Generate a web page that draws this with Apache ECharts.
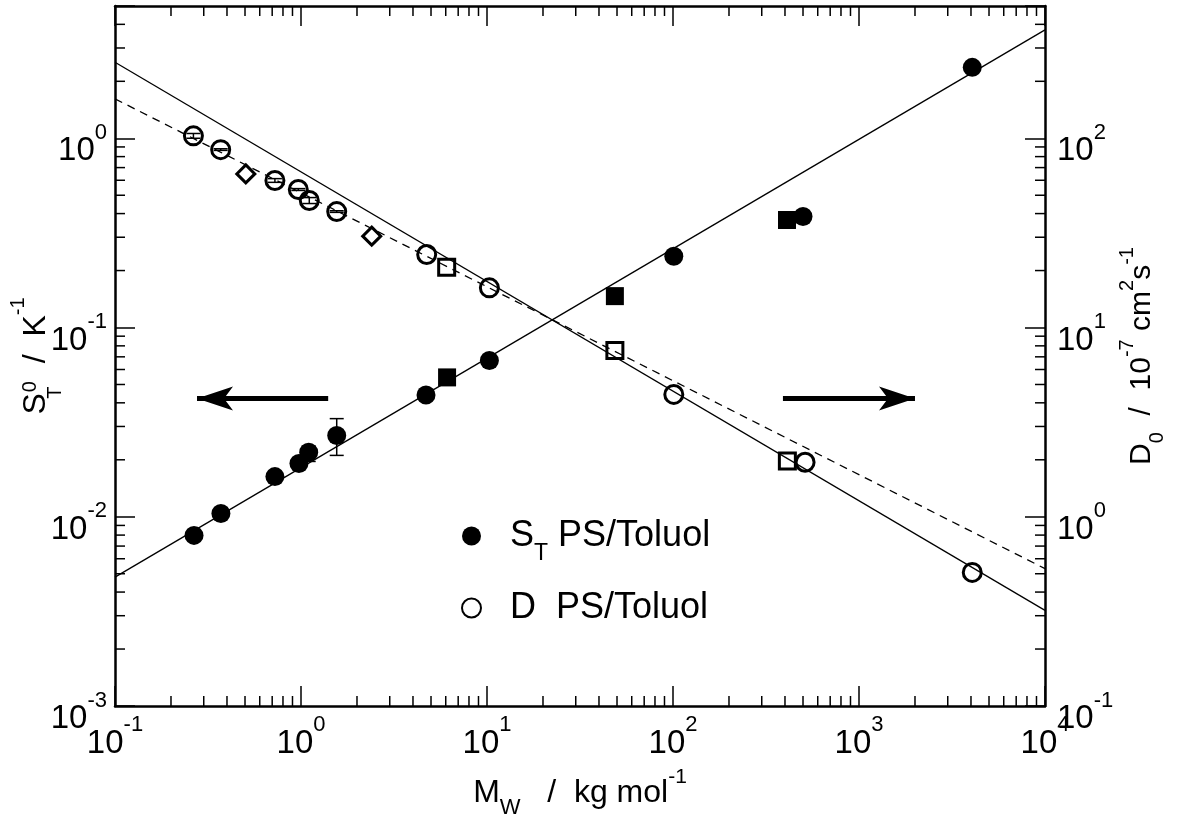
<!DOCTYPE html>
<html><head><meta charset="utf-8">
<script src="https://cdn.jsdelivr.net/npm/echarts@6/dist/echarts.min.js"></script>
<style>html,body{margin:0;padding:0;background:#fff}#c{width:1180px;height:814px}</style>
</head><body><div id="c"></div>
<script>
// ---------------- data ----------------
const xRange = [0.1, 1e4];          // M_w / kg mol^-1
const yLeftRange = [0.001, 5];      // S_T / K^-1
const yRightRange = [0.1, 500];     // D / 1e-7 cm^2 s^-1
const decadesX = [-1, 0, 1, 2, 3];
const decadesY = [-3, -2, -1, 0];

// S_T, filled circles (left axis)
const stCircleM = [0.266, 0.371, 0.724, 0.975, 1.10, 1.556, 4.70, 10.3, 101, 500, 4064];
const stCircleV = [0.00797, 0.0104, 0.0163, 0.0191, 0.0219, 0.0269, 0.044, 0.067, 0.238, 0.386, 2.37];
// S_T, filled squares
const stSquareM = [6.1, 48.7, 410];
const stSquareV = [0.0545, 0.1465, 0.37];
// S_T error bars
const stErrM  = [1.10, 1.556];
const stErrLo = [0.0196, 0.0211];
const stErrHi = [0.0236, 0.033];

// D, open circles (right axis)
const dCircleM = [0.264, 0.370, 0.724, 0.967, 1.108, 1.556, 4.74, 10.3, 101, 513, 4064];
const dCircleV = [103, 87.1, 59.8, 53.6, 46.9, 41.0, 24.3, 16.2, 4.43, 1.94, 0.508];
// D error bars (small, inside the circles)
const dErrM  = [0.264, 0.370, 0.724, 0.967, 1.108, 1.556];
const dErrLo = [100, 86.3, 58.5, 53.0, 45.2, 40.6];
const dErrHi = [106, 88.0, 61.2, 54.2, 48.6, 41.4];
// D, open diamonds
const dDiamondM = [0.505, 2.40];
const dDiamondV = [64.8, 30.4];
// D, open squares
const dSquareM = [6.07, 48.7, 412];
const dSquareV = [20.8, 7.56, 1.97];

// fit lines
const fitM = [0.1, 1e4];
const fitST = [0.0048, 3.74];
const fitD = [252, 0.32];
const fitDdash = [161.5, 0.532];

// direction arrows (left axis units)
const arrowLeftM = [1.40, 0.276];
const arrowRightM = [390, 2000];
const arrowY = 0.0422;

// ---------------- chart ----------------
const FONT = '"Liberation Sans", Arial, Helvetica, sans-serif';
const BLACK = '#000';
const pairs = (xs, ys) => xs.map((x, i) => [x, ys[i]]);

const minorVals = (decs) => {
  const out = [];
  decs.forEach(d => { for (let k = 2; k <= 9; k++) out.push(k * Math.pow(10, d)); });
  return out;
};
const xMinor = minorVals(decadesX);
const yMinor = minorVals(decadesY).filter(v => v < yLeftRange[1]);

function powLabel(v) {
  const e = Math.log10(v), r = Math.round(e);
  if (Math.abs(e - r) > 1e-6) return '';
  return '{b|10}{s|' + r + '}';
}
const labelRich = {
  b: {fontSize: 33, lineHeight: 33, padding: [13, 0, 0, 0], verticalAlign: 'top', fontFamily: FONT, color: BLACK},
  s: {fontSize: 22, lineHeight: 22, verticalAlign: 'top', fontFamily: FONT, color: BLACK}
};
const tok = (size, top, extra) => Object.assign({fontSize: size, lineHeight: size, padding: [top, 0, 0, 0], verticalAlign: 'top', fontFamily: FONT, color: BLACK}, extra || {});

const axisLine = {show: true, onZero: false, lineStyle: {color: BLACK, width: 2.5}};
const axisTick = {show: true, inside: true, length: 20, lineStyle: {color: BLACK, width: 1.5}};

function minorTickRender(kind) {
  return function (params, api) {
    const cs = params.coordSys;
    const L = 10;
    const st = {stroke: BLACK, lineWidth: 1.5};
    if (kind === 'x') {
      const px = api.coord([api.value(0), yLeftRange[0]])[0];
      return {type: 'group', children: [
        {type: 'line', shape: {x1: px, y1: cs.y + cs.height, x2: px, y2: cs.y + cs.height - L}, style: st},
        {type: 'line', shape: {x1: px, y1: cs.y, x2: px, y2: cs.y + L}, style: st}
      ]};
    }
    const py = api.coord([xRange[0], api.value(1)])[1];
    return {type: 'group', children: [
      {type: 'line', shape: {x1: cs.x, y1: py, x2: cs.x + L, y2: py}, style: st},
      {type: 'line', shape: {x1: cs.x + cs.width, y1: py, x2: cs.x + cs.width - L, y2: py}, style: st}
    ]};
  };
}

function errRender(params, api) {
  const x = api.value(0);
  const p1 = api.coord([x, api.value(1)]);
  const p2 = api.coord([x, api.value(2)]);
  const w = 7;
  const st = {stroke: BLACK, lineWidth: 1.5};
  return {type: 'group', children: [
    {type: 'line', shape: {x1: p1[0], y1: p1[1], x2: p2[0], y2: p2[1]}, style: st},
    {type: 'line', shape: {x1: p1[0] - w, y1: p1[1], x2: p1[0] + w, y2: p1[1]}, style: st},
    {type: 'line', shape: {x1: p2[0] - w, y1: p2[1], x2: p2[0] + w, y2: p2[1]}, style: st}
  ]};
}

const openStyle = {color: 'rgba(255,255,255,0)', borderColor: BLACK, borderWidth: 3, opacity: 1};
const fillStyle = {color: BLACK, opacity: 1};

const option = {
  animation: false,
  backgroundColor: '#fff',
  grid: {left: 115, right: 135, top: 6, bottom: 108, containLabel: false, outerBoundsMode: 'none'},
  legend: {
    data: ['S_T PS/Toluol', 'D  PS/Toluol'],
    orient: 'vertical', left: 456, top: 513, itemGap: 25,
    itemWidth: 19, itemHeight: 19, selectedMode: false,
    formatter: n => n.charAt(0) === 'S'
      ? '{g|}{m|S}{sub|T}{m| PS/Toluol}'
      : '{g|}{m|D  PS/Toluol}',
    textStyle: {
      fontFamily: FONT, fontSize: 36, color: BLACK,
      rich: {
        g: {width: 24},
        m: tok(36, 0, {padding: [0, 0, 11, 0]}),
        sub: tok(23, 24)
      }
    }
  },
  xAxis: [{
    type: 'log', logBase: 10, min: xRange[0], max: xRange[1], position: 'bottom',
    axisLine, axisTick, splitLine: {show: false}, minorTick: {show: false},
    axisLabel: {formatter: powLabel, margin: 8, rich: labelRich, color: BLACK, showMinLabel: true, showMaxLabel: true},
    name: '{m|M}{sub|W}{m|   /  kg mol}{sup|-1}',
    nameLocation: 'middle', nameGap: 24,
    nameTextStyle: {fontFamily: FONT, fontSize: 32, color: BLACK,
      rich: {m: tok(32, 12), sub: tok(22, 32), sup: tok(21, 2)}}
  }, {
    type: 'log', logBase: 10, min: xRange[0], max: xRange[1], position: 'top',
    axisLine, axisTick, splitLine: {show: false}, axisLabel: {show: false}
  }],
  yAxis: [{
    type: 'log', logBase: 10, min: yLeftRange[0], max: yLeftRange[1], position: 'left',
    axisLine, axisTick, splitLine: {show: false},
    axisLabel: {formatter: powLabel, margin: 8, rich: labelRich, color: BLACK, showMinLabel: true, showMaxLabel: true},
    name: '{m|S}{subT|T}{sup0|0}{m|  /  K}{supK|-1}',
    nameLocation: 'middle', nameRotate: 90, nameGap: 75, nameMoveOverlap: false,
    nameTextStyle: {fontFamily: FONT, fontSize: 32, color: BLACK,
      rich: {m: tok(32, 12), subT: tok(20, 37, {width: 1}), sup0: tok(20, 12), supK: tok(20, 0)}}
  }, {
    type: 'log', logBase: 10, min: yRightRange[0], max: yRightRange[1], position: 'right',
    axisLine, axisTick, splitLine: {show: false},
    axisLabel: {formatter: powLabel, margin: 12, rich: labelRich, color: BLACK, showMinLabel: true, showMaxLabel: true},
    name: '{m|D}{sub|0}{m|  /  10}{sup|-7}{m| cm}{sup|2}{m|s}{sup|-1}',
    nameLocation: 'middle', nameRotate: 90, nameGap: 70, nameMoveOverlap: false,
    nameTextStyle: {fontFamily: FONT, fontSize: 30, color: BLACK,
      rich: {m: tok(30, 12), sub: tok(20, 32), sup: tok(20, 2)}}
  }],
  series: [
    {type: 'line', name: 'fitST', xAxisIndex: 0, yAxisIndex: 0, data: pairs(fitM, fitST),
     showSymbol: false, lineStyle: {color: BLACK, width: 1.3}, z: 2,
     markLine: {
       silent: true, symbol: ['none', 'arrow'], symbolSize: [18, 36],
       lineStyle: {color: BLACK, width: 5, type: 'solid'}, label: {show: false},
       data: [
         [{coord: [arrowLeftM[0], arrowY]}, {coord: [arrowLeftM[1], arrowY]}],
         [{coord: [arrowRightM[0], arrowY]}, {coord: [arrowRightM[1], arrowY]}]
       ]
     }},
    {type: 'line', name: 'fitD', xAxisIndex: 0, yAxisIndex: 1, data: pairs(fitM, fitD),
     showSymbol: false, lineStyle: {color: BLACK, width: 1.3}, z: 2},
    {type: 'line', name: 'fitDdash', xAxisIndex: 0, yAxisIndex: 1, data: pairs(fitM, fitDdash),
     showSymbol: false, lineStyle: {color: BLACK, width: 1.3, type: [8, 6]}, z: 2},
    {type: 'custom', name: 'stErr', xAxisIndex: 0, yAxisIndex: 0,
     data: stErrM.map((m, i) => [m, stErrLo[i], stErrHi[i]]), renderItem: errRender,
     encode: {x: 0, y: [1, 2]}, z: 3},
    {type: 'custom', name: 'dErr', xAxisIndex: 0, yAxisIndex: 1,
     data: dErrM.map((m, i) => [m, dErrLo[i], dErrHi[i]]), renderItem: errRender,
     encode: {x: 0, y: [1, 2]}, z: 3},
    {type: 'scatter', name: 'S_T PS/Toluol', xAxisIndex: 0, yAxisIndex: 0,
     data: pairs(stCircleM, stCircleV), symbol: 'circle', symbolSize: 19,
     itemStyle: fillStyle, z: 5},
    {type: 'scatter', name: 'stSquare', xAxisIndex: 0, yAxisIndex: 0,
     data: pairs(stSquareM, stSquareV), symbol: 'rect', symbolSize: 18,
     itemStyle: fillStyle, z: 5},
    {type: 'scatter', name: 'D  PS/Toluol', xAxisIndex: 0, yAxisIndex: 1,
     data: pairs(dCircleM, dCircleV), symbol: 'circle', symbolSize: 18,
     itemStyle: openStyle, z: 5},
    {type: 'scatter', name: 'dDiamond', xAxisIndex: 0, yAxisIndex: 1,
     data: pairs(dDiamondM, dDiamondV), symbol: 'diamond', symbolSize: 18,
     itemStyle: openStyle, z: 5},
    {type: 'scatter', name: 'dSquare', xAxisIndex: 0, yAxisIndex: 1,
     data: pairs(dSquareM, dSquareV), symbol: 'rect', symbolSize: 16,
     itemStyle: openStyle, z: 5},
    {type: 'custom', name: 'minorX', xAxisIndex: 0, yAxisIndex: 0, silent: true,
     data: xMinor.map(v => [v, yLeftRange[0]]), renderItem: minorTickRender('x'), z: 4},
    {type: 'custom', name: 'minorY', xAxisIndex: 0, yAxisIndex: 0, silent: true,
     data: yMinor.map(v => [xRange[0], v]), renderItem: minorTickRender('y'), z: 4}
  ]
};
const chart = echarts.init(document.getElementById('c'));
chart.setOption(option);
</script>
</body></html>
